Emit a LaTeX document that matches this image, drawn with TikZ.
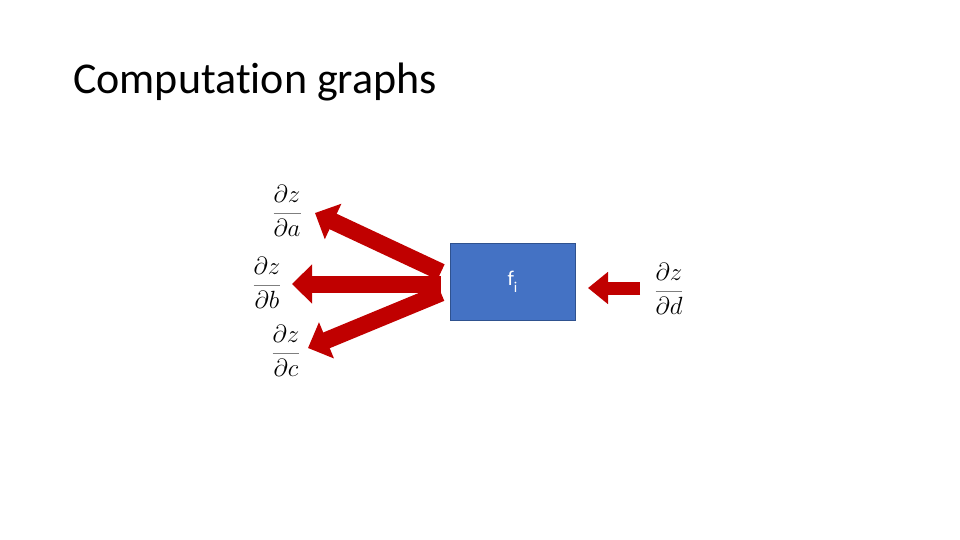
\documentclass[tikz,border=0pt]{standalone}
\usepackage{fontspec}
\setmainfont[Ligatures=NoCommon]{Carlito}
\usetikzlibrary{arrows.meta}
\definecolor{ared}{HTML}{C00000}
\definecolor{boxblue}{HTML}{4472C4}
\definecolor{boxedge}{HTML}{2F528F}
\definecolor{rulegray}{HTML}{7F7F7F}
\newcommand{\pfrac}[2]{$\displaystyle{\color{rulegray}\frac{\color{black}#1}{\color{black}#2}}$}
\tikzset{
  blockarrow/.style={draw=ared, line width=17pt, -{Triangle[width=38pt,length=20pt]}},
  smallarrow/.style={draw=ared, line width=13pt, -{Triangle[width=31pt,length=20pt]}},
  frac/.style={inner sep=0pt, font=\fontsize{28}{32}\selectfont},
  fbox/.style={draw=boxedge, line width=1pt, fill=boxblue, minimum width=125pt, minimum height=77pt, inner sep=0pt, text=white, font=\fontsize{21}{23}\selectfont},
  title/.style={anchor=base west, inner sep=0pt, font=\fontsize{44}{48}\selectfont}
}
\begin{document}
\begin{tikzpicture}[x=1pt,y=-1pt]
\useasboundingbox (0,0) rectangle (960,540);
\node[title] (t) at (73,94) {Computation graphs};
\node[fbox] (f) at (512.5,281.5) {f\raisebox{-7pt}{\fontsize{15}{15}\selectfont i}};
\node[frac] (da) at (287,211) {\pfrac{\partial z}{\partial a}};
\node[frac] (db) at (267,283) {\pfrac{\partial z}{\partial b}};
\node[frac] (dc) at (286,351) {\pfrac{\partial z}{\partial c}};
\node[frac] (dd) at (669,289) {\pfrac{\partial z}{\partial d}};
\coordinate (sa) at (441,272);
\coordinate (sb) at (441,284);
\coordinate (sc) at (441,293);
\coordinate (ta) at (315,213);
\coordinate (tb) at (292,284);
\coordinate (tc) at (308,348);
\coordinate (sd) at (640,288);
\coordinate (td) at (588,288);
\draw[blockarrow] (sa) -- (ta);
\draw[blockarrow] (sb) -- (tb);
\draw[blockarrow] (sc) -- (tc);
\draw[smallarrow] (sd) -- (td);
\end{tikzpicture}
\end{document}
